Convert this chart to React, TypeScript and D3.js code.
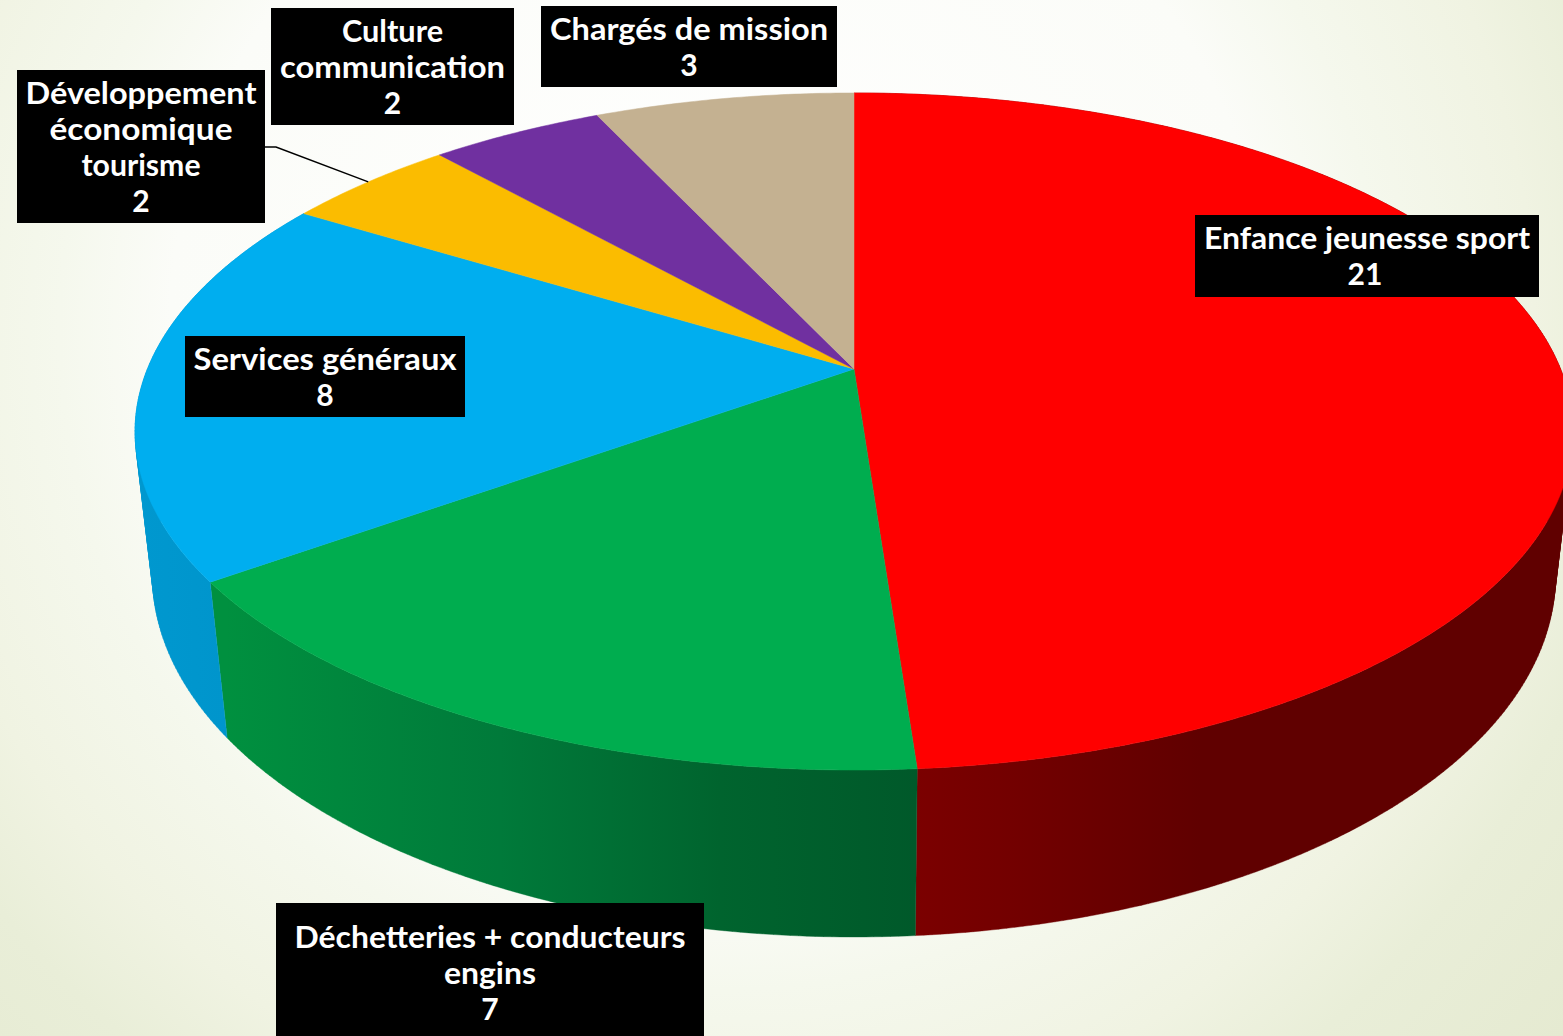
import * as d3 from "d3";

const categories = [
  "Enfance jeunesse sport",
  "Déchetteries + conducteurs engins",
  "Services généraux",
  "Développement économique tourisme",
  "Culture communication",
  "Chargés de mission",
];
const values = [21, 7, 8, 2, 2, 3];
const topColors = ["#ff0000", "#00ad4f", "#00aeef", "#fbbc00", "#7030a0", "#c4b191"];

const width = 1563;
const height = 1036;

// the pie is a circle seen in perspective: top rim and bottom rim
const topRim = { cx: 854, cy: 369, a: 706.6, b: 327, k: 0.1846 };
const bottomRim = { cx: 854, cy: 511, a: 690, b: 349.3, k: 0.18 };
type Rim = typeof topRim;

function project(rim: Rim, angle: number): [number, number] {
  const u = Math.sin(angle);
  const v = -Math.cos(angle);
  const w = 1 - rim.k * v;
  return [rim.cx + (rim.a * u) / w, rim.cy + (rim.b * v) / w];
}

// side shading, left to right on screen
const sideStops: [number, string][][] = [
  [[917, "#7b0000"], [1010, "#730000"], [1200, "#600000"]],
  [[226, "#00903f"], [500, "#007a3a"], [720, "#00642e"], [917, "#00592a"]],
  [[135, "#0098cf"], [226, "#0095cc"]],
];

const backgroundStops: [number, string][] = [
  [0, "#ffffff"],
  [0.5, "#fbfcf8"],
  [0.6, "#f5f8ed"],
  [0.74, "#f0f3e2"],
  [0.84, "#e9eed8"],
  [1, "#e5ead1"],
];

const pieGen = d3.pie<number>().sort(null).startAngle(0).endAngle(2 * Math.PI);
const arcs = pieGen(values);
const line = d3.line();

function anglesOf(start: number, end: number) {
  const n = Math.max(2, Math.ceil((end - start) / 0.01));
  return d3.range(n + 1).map((i) => start + ((end - start) * i) / n);
}

// all quads wound the same way, so they merge under the nonzero fill rule
function sideQuad(start: number, end: number) {
  const quad = [
    project(topRim, start),
    project(topRim, end),
    project(bottomRim, end),
    project(bottomRim, start),
  ];
  if (d3.polygonArea(quad) < 0) quad.reverse();
  return line(quad) + "Z";
}

type Label = {
  x0: number;
  x1: number;
  y0: number;
  y1: number;
  base: number;
  lines: [string, number?, number?][];
};

const labels: Label[] = [
  { x0: 1195, x1: 1539, y0: 215, y1: 297, base: 249, lines: [["Enfance jeunesse sport", 326], ["21", undefined, -2]] },
  { x0: 276, x1: 704, y0: 903, y1: 1036, base: 948, lines: [["Déchetteries + conducteurs", 391], ["engins", 92], ["7"]] },
  { x0: 185, x1: 465, y0: 336, y1: 417, base: 370, lines: [["Services généraux", 263], ["8"]] },
  { x0: 17, x1: 265, y0: 70, y1: 223, base: 104, lines: [["Développement", 231], ["économique", 183], ["tourisme", 119], ["2"]] },
  { x0: 271, x1: 514, y0: 8, y1: 125, base: 42, lines: [["Culture", 101], ["communication", 225], ["2"]] },
  { x0: 541, x1: 837, y0: 6, y1: 87, base: 40, lines: [["Chargés de mission", 278], ["3"]] },
];

export default function App() {
  const devArc = arcs[3];
  const anchor = project(topRim, (devArc.startAngle + devArc.endAngle) / 2);

  return (
    <svg
      width={width}
      height={height}
      style={{ position: "absolute", left: 0, top: 0, display: "block" }}
    >
      <defs>
        <radialGradient id="bg" gradientUnits="userSpaceOnUse" cx={720} cy={330} r={1100}>
          {backgroundStops.map(([o, c]) => (
            <stop key={o} offset={o} stopColor={c} />
          ))}
        </radialGradient>
        {sideStops.map((stops, i) => {
          const x = d3
            .scaleLinear()
            .domain([stops[0][0], stops[stops.length - 1][0]])
            .range([0, 1]);
          return (
            <linearGradient
              key={i}
              id={`side${i}`}
              gradientUnits="userSpaceOnUse"
              x1={stops[0][0]}
              x2={stops[stops.length - 1][0]}
              y1={0}
              y2={0}
            >
              {stops.map(([pos, c]) => (
                <stop key={pos} offset={x(pos)} stopColor={c} />
              ))}
            </linearGradient>
          );
        })}
      </defs>
      <rect width={width} height={height} fill="url(#bg)" />

      {arcs.slice(0, 3).map((d, i) => {
        const angles = anglesOf(d.startAngle, d.endAngle);
        const quads = angles.slice(1).map((end, j) => sideQuad(angles[j], end));
        return (
          <path
            key={categories[i]}
            d={quads.join("")}
            fill={`url(#side${i})`}
            stroke={`url(#side${i})`}
            strokeWidth={0.4}
          />
        );
      })}

      {arcs.map((d, i) => {
        const rimPoints = anglesOf(d.startAngle, d.endAngle).map((a) => project(topRim, a));
        const shape: [number, number][] = [[topRim.cx, topRim.cy], ...rimPoints];
        return (
          <path
            key={categories[i]}
            d={line(shape) + "Z"}
            fill={topColors[i]}
            stroke={topColors[i]}
            strokeWidth={0.5}
          />
        );
      })}

      <path
        d={line([[265, 147], [276, 147], anchor]) ?? ""}
        fill="none"
        stroke="#000"
        strokeWidth={1.5}
      />

      {labels.map((l) => (
        <g key={l.base + l.lines[0][0]}>
          <rect x={l.x0} y={l.y0} width={l.x1 - l.x0} height={l.y1 - l.y0} fill="#000" />
          {l.lines.map(([text, w, dx], i) => (
            <text
              key={i}
              x={(l.x0 + l.x1) / 2 + (dx ?? 0)}
              y={l.base + i * 36}
              textAnchor="middle"
              fill="#fff"
              fontFamily="Lato, 'Open Sans', sans-serif"
              fontWeight={700}
              fontSize={30}
              textLength={w}
              lengthAdjust={w ? "spacingAndGlyphs" : undefined}
            >
              {text}
            </text>
          ))}
        </g>
      ))}
    </svg>
  );
}
